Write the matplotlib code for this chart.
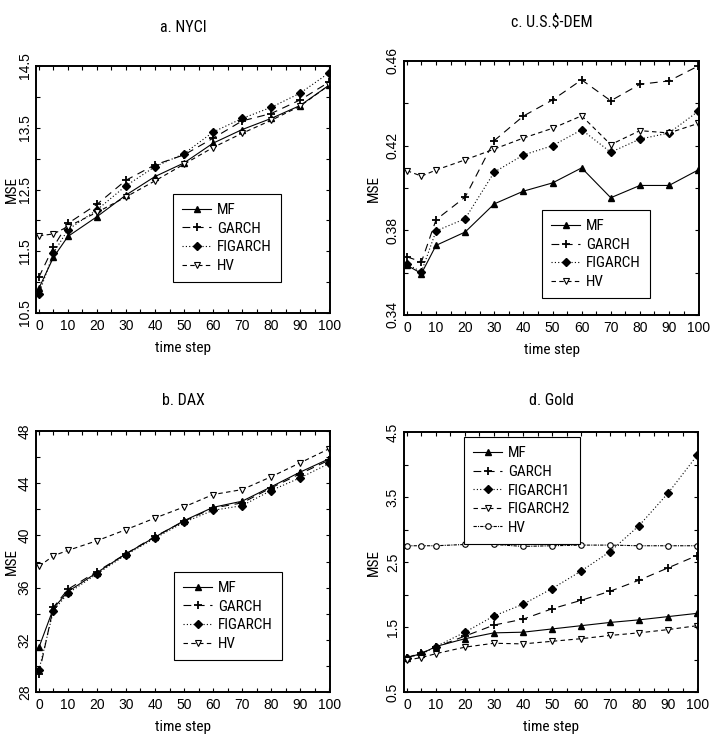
import matplotlib
matplotlib.use("Agg")
import matplotlib.pyplot as plt
from matplotlib.lines import Line2D
from matplotlib.legend_handler import HandlerLine2D
from matplotlib import font_manager
import numpy as np

_names = {f.name for f in font_manager.fontManager.ttflist}
_cond = [n for n in ['Liberation Sans Narrow', 'Roboto Condensed', 'Open Sans Condensed',
                     'Liberation Sans'] if n in _names]
COND = _cond[:1] + ['DejaVu Sans']
TICKF = ['Liberation Sans', 'DejaVu Sans']
plt.rcParams['font.family'] = COND
plt.rcParams['font.size'] = 10

steps = [0, 5, 10, 20, 30, 40, 50, 60, 70, 80, 90, 100]

# a. NYCI
nyci_mf = [10.90, 11.40, 11.74, 12.06, 12.41, 12.71, 12.93, 13.25, 13.47, 13.65, 13.86, 14.19]
nyci_garch = [11.08, 11.57, 11.95, 12.26, 12.65, 12.90, 13.06, 13.33, 13.61, 13.73, 13.95, 14.24]
nyci_figarch = [10.81, 11.47, 11.85, 12.17, 12.56, 12.87, 13.08, 13.43, 13.65, 13.83, 14.06, 14.39]
nyci_hv = [11.75, 11.78, 11.90, 12.13, 12.38, 12.64, 12.91, 13.18, 13.41, 13.62, 13.85, 14.19]

# b. DAX
dax_mf = [31.41, 34.41, 35.69, 37.15, 38.59, 39.87, 41.13, 42.15, 42.62, 43.72, 44.85, 45.87]
dax_garch = [29.36, 34.49, 35.87, 37.23, 38.59, 39.92, 41.08, 42.10, 42.49, 43.64, 44.72, 45.77]
dax_figarch = [29.67, 34.23, 35.56, 37.05, 38.51, 39.79, 41.00, 41.92, 42.28, 43.44, 44.41, 45.51]
dax_hv = [37.62, 38.44, 38.85, 39.59, 40.44, 41.33, 42.18, 43.13, 43.51, 44.49, 45.56, 46.64]

# c. U.S.$-DEM
dem_mf = [0.3635, 0.3596, 0.3729, 0.3792, 0.3925, 0.3985, 0.4024, 0.4095, 0.3954, 0.4012, 0.4012, 0.4085]
dem_garch = [0.3675, 0.3651, 0.3850, 0.3957, 0.4224, 0.4340, 0.4416, 0.4511, 0.4412, 0.4490, 0.4506, 0.4576]
dem_figarch = [0.3640, 0.3604, 0.3797, 0.3855, 0.4075, 0.4156, 0.4200, 0.4275, 0.4169, 0.4231, 0.4260, 0.4362]
dem_hv = [0.4082, 0.4056, 0.4085, 0.4133, 0.4184, 0.4236, 0.4282, 0.4341, 0.4205, 0.4271, 0.4260, 0.4305]

# d. Gold
gold_mf = [1.03, 1.09, 1.20, 1.32, 1.41, 1.42, 1.47, 1.52, 1.57, 1.61, 1.66, 1.71]
gold_garch = [1.03, 1.10, 1.19, 1.36, 1.53, 1.62, 1.78, 1.91, 2.05, 2.22, 2.41, 2.60]
gold_figarch1 = [1.03, 1.08, 1.20, 1.42, 1.67, 1.85, 2.09, 2.36, 2.66, 3.06, 3.56, 4.14]
gold_figarch2 = [0.99, 1.03, 1.09, 1.19, 1.25, 1.24, 1.28, 1.32, 1.37, 1.41, 1.46, 1.52]
gold_hv = [2.75, 2.75, 2.75, 2.77, 2.77, 2.74, 2.75, 2.76, 2.76, 2.75, 2.75, 2.75]

W, H = 717, 735
fig = plt.figure(figsize=(W / 100, H / 100), dpi=100)


class LeftMarkerHandler(HandlerLine2D):
    def get_xdata(self, legend, xdescent, ydescent, width, height, fontsize):
        xdata = np.array([-xdescent, -xdescent + width], float)
        return xdata, np.array([-xdescent], float)


def px_axes(l, t, r, b):
    return fig.add_axes([l / W, 1 - b / H, (r - l) / W, (b - t) / H])


STY = {
    'MF': dict(ls='-', marker='^', ms=5, mfc='black', mec='black'),
    'GARCH': dict(ls=(0, (7, 5)), marker='+', ms=6, mew=1.3),
    'FIGARCH': dict(ls=(0, (1, 2)), marker='D', ms=4.5, mfc='black', mec='black'),
    'HV': dict(ls=(0, (4, 3)), marker='v', ms=5, mfc='white', mec='black', mew=0.8),
    'HVd': dict(ls=(0, (3, 1, 1, 1)), marker='o', ms=4, mfc='white', mec='black', mew=0.8),
}


def panel(rect, title, title_y, mse_x, series, ylim, ymaj, ymin, leg_xy):
    ax = px_axes(*rect)
    handles = []
    for name, key, vals in series:
        st = STY[key]
        ax.plot(steps, vals, color='black', lw=0.8, **st)
        handles.append(Line2D([0, 1], [0, 1], color='black', lw=0.8, **st))
    ax.set_xlim(-1, 100.3)
    ax.set_ylim(*ylim)
    ax.set_xticks(np.arange(0, 101, 10))
    ax.set_xticks(np.arange(5, 100, 10), minor=True)
    ax.set_yticks(ymaj)
    ax.set_yticks(ymin, minor=True)
    ax.set_yticklabels([('%g' % v) for v in ymaj])
    ax.tick_params(axis='both', which='both', direction='in', top=True, right=True,
                   length=3, width=0.8, labelsize=10)
    ax.tick_params(axis='y', labelrotation=90, pad=3)
    ax.tick_params(axis='x', pad=4)
    for lab in ax.get_yticklabels() + ax.get_xticklabels():
        lab.set_family(TICKF)
    for lab in ax.get_yticklabels():
        lab.set_va('center')
    for s in ax.spines.values():
        s.set_linewidth(1.4)
    ax.set_xlabel('time step', labelpad=6, fontsize=11)
    ax.set_ylabel('MSE', fontsize=11)
    ax.yaxis.set_label_coords((mse_x - rect[0]) / (rect[2] - rect[0]), 0.5)
    ax.yaxis.label.set_va('center')
    cx = (rect[0] + rect[2]) / 2 / W
    fig.text(cx, 1 - title_y / H, title, ha='center', va='center', fontsize=11.5)
    leg = ax.legend(handles, [s[0] for s in series], loc='upper left', bbox_to_anchor=leg_xy,
                    handler_map={Line2D: LeftMarkerHandler(numpoints=1)},
                    handlelength=1.9, handletextpad=0.4, fancybox=False,
                    edgecolor='black', framealpha=1, fontsize=11, borderpad=0.6,
                    labelspacing=0.3, borderaxespad=0)
    leg.get_frame().set_linewidth(0.8)
    return ax


panel((36, 66, 330, 313), 'a. NYCI', 28, 12,
      [('MF', 'MF', nyci_mf), ('GARCH', 'GARCH', nyci_garch),
       ('FIGARCH', 'FIGARCH', nyci_figarch), ('HV', 'HV', nyci_hv)],
      (10.5, 14.5), [10.5, 11.5, 12.5, 13.5, 14.5], [11, 12, 13, 14], (0.466, 0.482))

panel((404, 61, 699, 315), 'c. U.S.$-DEM', 22, 374,
      [('MF', 'MF', dem_mf), ('GARCH', 'GARCH', dem_garch),
       ('FIGARCH', 'FIGARCH', dem_figarch), ('HV', 'HV', dem_hv)],
      (0.34, 0.46), [0.34, 0.38, 0.42, 0.46], [0.36, 0.40, 0.44], (0.468, 0.413))

panel((36, 431, 330, 692), 'b. DAX', 400, 12,
      [('MF', 'MF', dax_mf), ('GARCH', 'GARCH', dax_garch),
       ('FIGARCH', 'FIGARCH', dax_figarch), ('HV', 'HV', dax_hv)],
      (28, 48), [28, 32, 36, 40, 44, 48], [30, 34, 38, 42, 46], (0.469, 0.46))

panel((404, 432, 698, 692), 'd. Gold', 400, 374,
      [('MF', 'MF', gold_mf), ('GARCH', 'GARCH', gold_garch),
       ('FIGARCH1', 'FIGARCH', gold_figarch1), ('FIGARCH2', 'HV', gold_figarch2),
       ('HV', 'HVd', gold_hv)],
      (0.5, 4.5), [0.5, 1.5, 2.5, 3.5, 4.5], [1, 2, 3, 4], (0.204, 0.98))

fig.savefig('out.png', dpi=100)
